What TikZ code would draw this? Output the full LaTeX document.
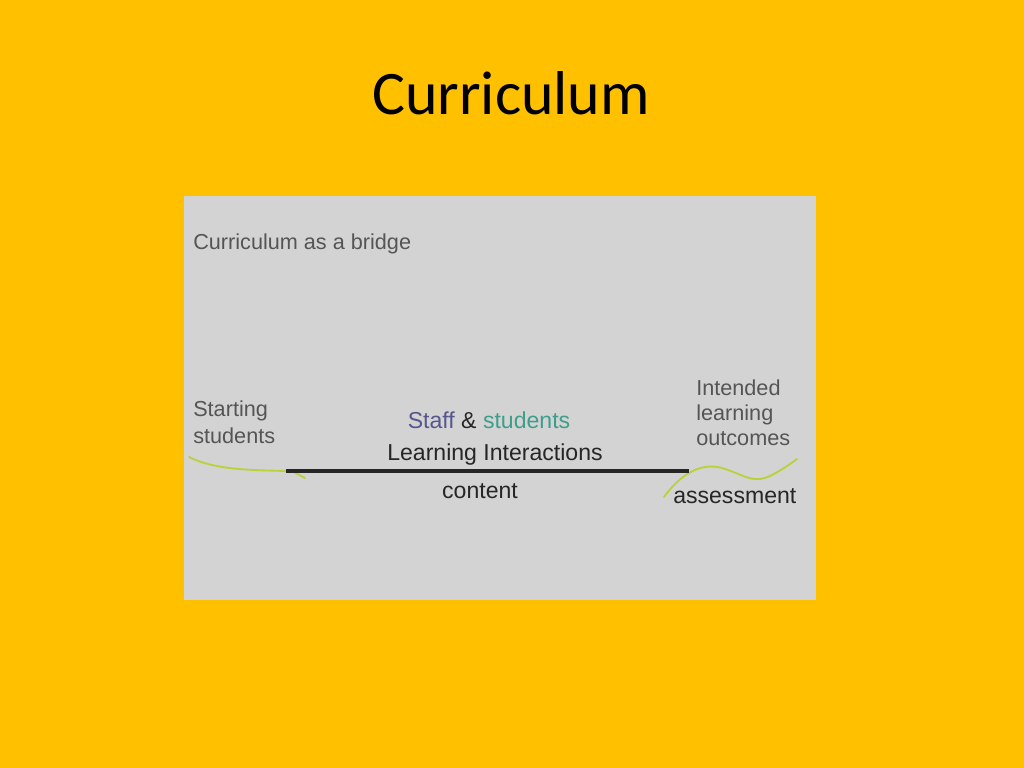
\documentclass[tikz,border=0pt]{standalone}
\usepackage{fontspec}
\setmainfont{Carlito}
\newfontfamily\labelfont{Liberation Sans}
\definecolor{slideyellow}{HTML}{FFC000}
\definecolor{panelgray}{HTML}{D3D3D3}
\definecolor{softtext}{HTML}{555555}
\definecolor{darktext}{HTML}{262626}
\definecolor{staffblue}{HTML}{56568E}
\definecolor{studgreen}{HTML}{3E9E8C}
\definecolor{bankgreen}{HTML}{B8D23A}
\begin{document}
\begin{tikzpicture}[x=0.025cm,y=-0.025cm]

    \tikzset{softlabel/.style={inner sep=0pt,anchor=base west,text=softtext,
                               font=\labelfont\fontsize{15.4}{18}\selectfont},
             midlabel/.style={inner sep=0pt,anchor=base,text=darktext,
                              font=\labelfont\fontsize{16.4}{19}\selectfont},
             bank/.style={bankgreen,line width=1.3pt,line cap=round}}

    % slide and panel
    \fill[slideyellow] (0,0) rectangle (1024,768);
    \fill[panelgray] (184,196) rectangle (816,600);
    \node[inner sep=0pt,anchor=base,font=\fontsize{44}{50}\selectfont] (title) at (511,115) {Curriculum};

    \node[softlabel] (bridge) at (193,249) {Curriculum as a bridge};

    \node[softlabel] (start1) at (193,416) {Starting};
    \node[softlabel] (start2) at (193,443) {students};

    \node[midlabel] (staff) at (489,428) {\textcolor{staffblue}{Staff} \& \textcolor{studgreen}{students}};
    \node[midlabel] (interact) at (495,460) {Learning Interactions};
    \node[midlabel] (content) at (480,498) {content};

    \node[softlabel] (goal1) at (696,395) {Intended};
    \node[softlabel] (goal2) at (696,420) {learning};
    \node[softlabel] (goal3) at (696,445) {outcomes};
    \node[midlabel,anchor=base west] (assess) at (673,503) {assessment};

    % the two banks and the bridge
    \coordinate (lbank) at (286,471);
    \coordinate (rbank) at (689,471);
    \draw[bank] (189,457) .. controls (215,470) and (250,470) .. (lbank);
    \draw[bank] (290,470) -- (305,478);
    \draw[bank] (664,497) .. controls (680,475) and (700,462) .. (722,468)
                .. controls (745,475) and (752,484) .. (770,476)
                .. controls (782,470) and (790,464) .. (797,459);
    \draw[darktext,line width=2.2pt] (lbank) -- (rbank);

\end{tikzpicture}
\end{document}
